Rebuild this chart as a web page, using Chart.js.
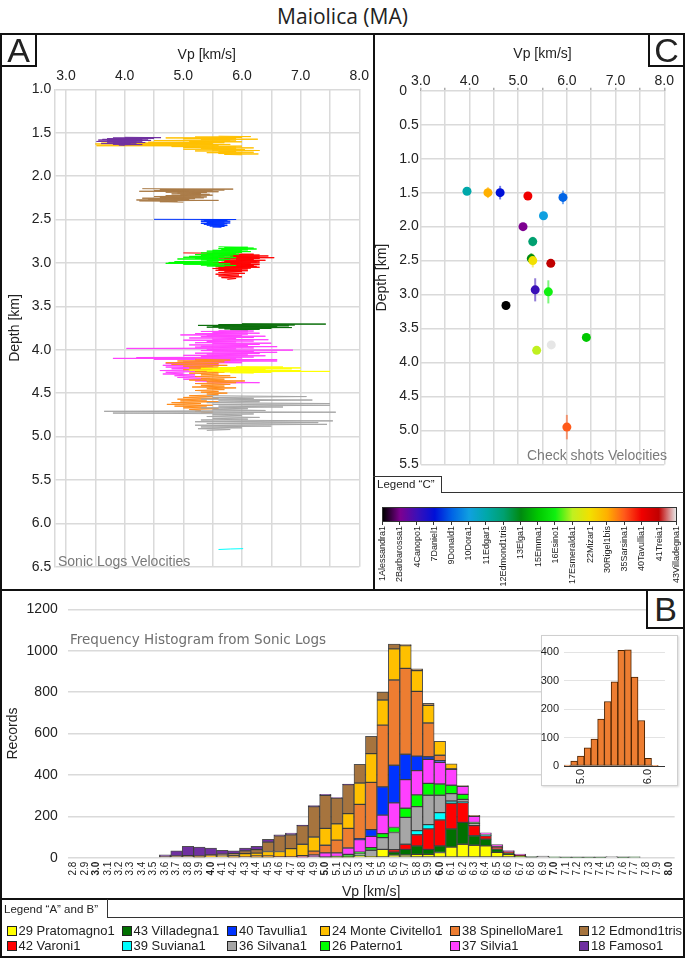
<!DOCTYPE html>
<html>
<head>
<meta charset="utf-8">
<script src="https://cdn.jsdelivr.net/npm/chart.js@4.4.0/dist/chart.umd.min.js"></script>
<style>
body { margin: 0; background: #fff; font-family: "Liberation Sans", Arial, sans-serif; color: #222; }
#page { position: relative; width: 685px; height: 958px; overflow: hidden; background: #fff; }
canvas { position: absolute; }
.frame { position: absolute; box-sizing: border-box; border: 2px solid #111; pointer-events: none; }
.tag { position: absolute; box-sizing: border-box; border: 2px solid #111; background: #fff; font-size: 34px; text-align: center; }
.line { position: absolute; background: #333; }
.txt { position: absolute; white-space: nowrap; }
.sw { position: absolute; width: 10px; height: 10px; box-sizing: border-box; border: 1px solid #222; }
.cbl { position: absolute; font-size: 9px; writing-mode: vertical-rl; transform: rotate(180deg); white-space: nowrap; }
</style>
</head>
<body>
<div id="page">
  <div class="txt" style="left:0;width:685px;top:2px;text-align:center;font:21px 'Open Sans',sans-serif;">Maiolica (MA)</div>

  <canvas id="cA" width="374" height="558" style="left:0;top:33px;"></canvas>
  <canvas id="cC" width="313" height="444" style="left:372px;top:33px;"></canvas>
  <canvas id="cB" width="685" height="310" style="left:0;top:591px;"></canvas>
  <div style="position:absolute;left:541px;top:635px;width:137px;height:151px;box-sizing:border-box;border:1px solid #cfcfcf;background:#fff;box-shadow:1px 1px 2px rgba(0,0,0,0.15);"></div>
  <canvas id="cI" width="137" height="151" style="left:541px;top:635px;"></canvas>

  <div class="txt" style="left:58px;top:553px;font-size:14px;color:#7a7a7a;">Sonic Logs Velocities</div>
  <div class="txt" style="left:527px;top:447px;font-size:14px;color:#7a7a7a;">Check shots Velocities</div>
  <div class="txt" style="left:70px;top:631px;font:13.5px 'DejaVu Sans',sans-serif;color:#6f6f6f;">Frequency Histogram from Sonic Logs</div>

  <div class="frame" style="left:0;top:33px;width:375px;height:558px;"></div>
  <div class="frame" style="left:373px;top:33px;width:312px;height:558px;"></div>
  <div class="frame" style="left:0;top:589px;width:685px;height:311px;"></div>
  <div class="frame" style="left:0;top:898px;width:685px;height:60px;"></div>

  <div class="tag" style="left:0;top:33px;width:37px;height:34px;line-height:31px;">A</div>
  <div class="tag" style="left:648px;top:33px;width:37px;height:34px;line-height:31px;">C</div>
  <div class="tag" style="left:646px;top:589px;width:39px;height:40px;line-height:37px;">B</div>

  <!-- legend C tab -->
  <div class="line" style="left:373px;top:476px;width:69px;height:1px;"></div>
  <div class="line" style="left:441px;top:476px;width:1px;height:17px;"></div>
  <div class="line" style="left:441px;top:492px;width:243px;height:1px;"></div>
  <div class="txt" style="left:377px;top:478px;font-size:11.5px;">Legend “C”</div>
  <div id="cbar" style="position:absolute;left:382px;top:507px;width:295px;height:15px;box-sizing:border-box;border:1px solid #333;"></div>
  <div id="cbLabels"></div>

  <!-- legend A and B tab -->
  <div class="line" style="left:107px;top:899px;width:1px;height:18px;"></div>
  <div class="line" style="left:107px;top:917px;width:577px;height:1px;"></div>
  <div class="txt" style="left:4px;top:903px;font-size:11.5px;">Legend “A” and B”</div>
  <div id="legAB"></div>
</div>

<script>
// ---------- Panel A : sonic logs, [depth km, Vp km/s] ----------
const famosoLog = [[1.553,4.00],[1.557,4.62],[1.561,3.80],[1.565,4.50],[1.569,3.70],[1.573,4.40],[1.577,3.62],[1.581,4.30],[1.585,3.55],[1.589,4.45],[1.593,3.70],[1.597,4.20],[1.601,3.52],[1.605,4.30],[1.609,3.80],[1.613,4.35],[1.617,3.70],[1.621,4.10],[1.625,3.60],[1.629,4.20],[1.633,3.80],[1.637,4.30],[1.641,3.90],[1.645,4.00]];
const civitelloLog = [[1.540,5.60],[1.545,6.15],[1.550,5.20],[1.555,6.00],[1.560,4.70],[1.565,5.90],[1.570,5.00],[1.575,6.27],[1.580,5.30],[1.585,5.80],[1.590,4.50],[1.595,5.90],[1.600,5.10],[1.605,6.00],[1.610,4.40],[1.615,5.70],[1.620,3.60],[1.625,5.50],[1.630,3.50],[1.635,5.80],[1.640,4.20],[1.645,5.60],[1.650,3.52],[1.655,6.00],[1.660,4.80],[1.665,5.90],[1.670,5.00],[1.675,6.20],[1.680,5.30],[1.685,5.90],[1.690,5.00],[1.695,6.05],[1.700,5.50],[1.705,6.30],[1.710,5.20],[1.715,5.90],[1.720,5.60],[1.725,6.20],[1.730,5.40],[1.735,6.00],[1.740,5.60],[1.745,6.28],[1.750,5.70],[1.755,6.00]];
const edmondLog = [[2.145,4.30],[2.150,5.85],[2.155,4.60],[2.160,5.70],[2.165,4.50],[2.170,5.50],[2.175,4.25],[2.180,5.60],[2.185,4.70],[2.190,5.40],[2.195,4.90],[2.200,5.30],[2.205,4.80],[2.210,5.45],[2.215,4.95],[2.220,5.50],[2.225,4.70],[2.230,5.30],[2.235,4.50],[2.240,5.40],[2.245,4.60],[2.250,5.35],[2.255,4.30],[2.260,5.20],[2.265,4.40],[2.270,5.10],[2.275,4.20],[2.280,5.60],[2.285,4.25],[2.290,4.90],[2.295,4.60],[2.300,5.00]];
const tavulliaLog = [[2.498,4.50],[2.500,5.90],[2.505,5.30],[2.510,5.75],[2.515,5.35],[2.520,5.80],[2.525,5.30],[2.530,5.70],[2.535,5.40],[2.540,5.80],[2.545,5.30],[2.550,5.75],[2.555,5.35],[2.560,5.70],[2.565,5.40],[2.570,5.75],[2.575,5.45],[2.580,5.70],[2.585,5.50],[2.590,5.65]];
const paternoLog = [[2.815,5.60],[2.820,6.10],[2.825,5.70],[2.830,6.20],[2.835,5.60],[2.840,6.25],[2.845,5.65],[2.850,6.10],[2.855,5.50],[2.860,6.00],[2.865,5.40],[2.870,6.15],[2.875,5.50],[2.880,6.00],[2.885,5.30],[2.890,5.90],[2.895,5.40],[2.900,5.95],[2.905,5.20],[2.910,5.80],[2.915,5.30],[2.920,5.85],[2.925,5.10],[2.930,5.70],[2.935,5.00],[2.940,5.90],[2.945,5.20],[2.950,5.60],[2.955,4.90],[2.960,5.80],[2.965,5.30],[2.970,5.70],[2.975,5.40],[2.980,5.60],[2.985,4.85],[2.990,5.50],[2.995,4.75],[3.000,5.60],[3.005,4.70],[3.010,5.80],[3.015,5.00],[3.020,5.60],[3.025,5.30],[3.030,5.90],[3.035,5.40],[3.040,5.70]];
const varoniLog = [[2.885,5.00],[2.890,5.80],[2.895,5.60],[2.900,6.20],[2.905,5.70],[2.910,6.30],[2.915,5.60],[2.920,6.45],[2.925,5.80],[2.930,6.30],[2.935,5.50],[2.940,6.55],[2.945,5.70],[2.950,6.30],[2.955,5.60],[2.960,6.20],[2.965,5.90],[2.970,6.40],[2.975,5.65],[2.980,6.30],[2.985,5.70],[2.990,6.25],[2.995,5.50],[3.000,6.30],[3.005,5.60],[3.010,6.15],[3.015,5.70],[3.020,6.30],[3.025,5.50],[3.030,6.20],[3.035,5.65],[3.040,6.25],[3.045,5.55],[3.050,6.30],[3.055,5.60],[3.060,6.15],[3.065,5.50],[3.070,6.10],[3.075,5.60],[3.080,6.00],[3.085,5.55],[3.090,6.10],[3.095,5.70],[3.100,6.00],[3.110,5.60],[3.120,6.05],[3.130,5.55],[3.140,5.95],[3.150,5.60],[3.160,6.00],[3.170,5.65],[3.180,5.90],[3.190,5.75]];
const villadegnaLog = [[3.700,6.00],[3.705,7.43],[3.710,5.60],[3.715,6.90],[3.720,5.25],[3.725,6.80],[3.730,5.50],[3.735,6.60],[3.740,5.40],[3.745,6.85],[3.750,5.60],[3.755,6.50],[3.760,5.70],[3.765,6.30],[3.770,5.80],[3.775,6.10]];
const silviaLog = [[3.780,5.60],[3.785,6.20],[3.790,5.30],[3.795,6.10],[3.800,5.50],[3.810,6.30],[3.815,5.20],[3.820,6.10],[3.830,4.95],[3.835,6.00],[3.840,5.40],[3.845,6.40],[3.850,5.30],[3.860,6.20],[3.865,5.10],[3.870,5.90],[3.880,5.50],[3.885,6.45],[3.890,5.00],[3.900,6.20],[3.905,5.40],[3.910,5.90],[3.920,5.20],[3.925,6.50],[3.930,5.50],[3.940,6.30],[3.945,5.10],[3.950,6.10],[3.960,5.30],[3.965,6.60],[3.970,5.20],[3.980,6.20],[3.985,4.03],[3.990,5.90],[4.000,5.40],[4.005,6.87],[4.010,5.30],[4.020,6.20],[4.025,5.50],[4.030,6.60],[4.040,5.20],[4.045,6.30],[4.050,5.40],[4.060,6.10],[4.065,5.00],[4.070,6.40],[4.080,5.30],[4.085,6.20],[4.090,4.20],[4.095,6.00],[4.100,3.80],[4.105,5.90],[4.110,4.50],[4.115,6.60],[4.120,5.20],[4.130,6.60],[4.140,5.00],[4.150,6.00],[4.160,4.70],[4.170,5.60],[4.180,4.65],[4.190,5.50],[4.200,4.70],[4.210,5.30],[4.220,4.80],[4.230,5.50],[4.240,4.60],[4.250,5.40],[4.260,4.70],[4.270,5.00],[4.280,4.65],[4.290,5.20],[4.300,4.85],[4.310,5.30],[4.320,4.90],[4.330,5.45],[4.340,5.00],[4.350,5.40],[4.360,5.20],[4.370,5.60],[4.380,6.30],[4.385,5.40]];
const spinelloLog = [[4.11,5.20],[4.12,5.80],[4.13,4.90],[4.14,5.70],[4.15,4.70],[4.16,5.60],[4.17,4.80],[4.18,5.75],[4.19,5.00],[4.20,5.60],[4.21,5.10],[4.22,5.50],[4.23,5.00],[4.24,5.90],[4.25,5.20],[4.26,5.70],[4.27,5.10],[4.28,5.60],[4.29,5.30],[4.30,5.80],[4.31,5.20],[4.32,5.90],[4.33,5.30],[4.34,5.70],[4.35,5.10],[4.36,6.05],[4.37,5.40],[4.38,5.90],[4.39,5.20],[4.40,5.80],[4.41,5.30],[4.42,5.70],[4.43,5.15],[4.44,5.90],[4.45,5.40],[4.46,5.70],[4.47,5.20],[4.48,5.60],[4.49,5.30],[4.50,5.75],[4.51,5.40],[4.52,5.60],[4.53,5.10],[4.54,5.50],[4.55,5.00],[4.56,5.60],[4.57,4.90],[4.58,5.40],[4.59,4.95],[4.60,5.60],[4.61,4.80],[4.62,5.30],[4.63,4.72],[4.64,5.50],[4.65,4.85],[4.66,5.40],[4.67,5.00],[4.68,5.60],[4.69,5.10],[4.70,5.30],[4.71,5.20],[4.72,5.50],[4.73,5.30]];
const pratomagnoLog = [[4.195,5.90],[4.200,6.70],[4.205,5.60],[4.210,7.00],[4.215,5.30],[4.220,6.85],[4.225,5.50],[4.230,6.40],[4.235,5.10],[4.240,7.00],[4.245,5.40],[4.250,7.50],[4.255,5.60],[4.260,6.50],[4.265,5.80],[4.270,6.20]];
const silvanaLog = [[4.53,5.40],[4.54,7.10],[4.55,5.50],[4.56,6.20],[4.57,5.30],[4.58,7.20],[4.59,5.60],[4.60,6.30],[4.61,5.40],[4.62,7.50],[4.63,5.50],[4.64,7.50],[4.65,5.60],[4.66,6.70],[4.67,5.30],[4.68,6.10],[4.69,5.50],[4.70,6.40],[4.71,3.65],[4.72,7.60],[4.73,3.80],[4.74,6.20],[4.75,5.50],[4.76,6.00],[4.77,5.40],[4.78,6.30],[4.79,5.50],[4.80,6.10],[4.81,5.30],[4.82,7.55],[4.83,5.20],[4.84,7.30],[4.85,5.40],[4.86,7.45],[4.87,5.20],[4.88,6.50],[4.89,5.30],[4.90,6.00],[4.91,5.25],[4.92,5.80],[4.93,5.40]];
const suvianaLog = [[6.302,5.60],[6.296,5.80],[6.292,6.02]];

const vpTicks = [3.0, 3.5, 4.0, 4.5, 5.0, 5.5, 6.0, 6.5, 7.0, 7.5, 8.0];

// ---------- Panel C : check shots ----------
const cWell  = ['11Edgar1','30Rigel1bis','7Daniel1','40Tavullia1','9Donald1','10Dora1','2Barbarossa1','12Edmond1tris','13Elga1','22Mizar1','41Treia1','4Canopo1','16Esino1','1Alessandra1','15Emma1','43Villadegna1','17Esmeralda1','35Sarsina1'];
const cVp    = [3.95, 4.38, 4.63, 5.20, 5.92, 5.52, 5.10, 5.30, 5.27, 5.30, 5.67, 5.35, 5.62, 4.75, 6.40, 5.68, 5.38, 6.00];
const cDepth = [1.48, 1.50, 1.50, 1.55, 1.57, 1.84, 2.00, 2.22, 2.47, 2.50, 2.54, 2.93, 2.96, 3.16, 3.63, 3.74, 3.82, 4.95];
const cErr   = [0.05, 0.08, 0.10, 0.04, 0.10, 0.03, 0.00, 0.07, 0.08, 0.10, 0.00, 0.17, 0.17, 0.06, 0.00, 0.00, 0.00, 0.18];

const cbWells = ['1Alessandra1','2Barbarossa1','4Canopo1','7Daniel1','9Donald1','10Dora1','11Edgar1','12Edmond1tris','13Elga1','15Emma1','16Esino1','17Esmeralda1','22Mizar1','30Rigel1bis','35Sarsina1','40Tavullia1','41Treia1','43Villadegna1'];
const cbColors = ['#000000','#7d0090','#3a10b8','#0010d8','#0064e6','#10a0e0','#00a8aa','#00a070','#008a10','#00c800','#10f010','#c0f020','#f2e000','#ffb000','#ff5a1a','#f00000','#c00000','#e6e6e6'];

// ---------- Panel B : histogram (records per 0.1 km/s bin) ----------
const binLabels = ['2.8','2.9','3.0','3.1','3.2','3.3','3.4','3.5','3.6','3.7','3.8','3.9','4.0','4.1','4.2','4.3','4.4','4.5','4.6','4.7','4.8','4.9','5.0','5.1','5.2','5.3','5.4','5.5','5.6','5.7','5.8','5.9','6.0','6.1','6.2','6.3','6.4','6.5','6.6','6.7','6.8','6.9','7.0','7.1','7.2','7.3','7.4','7.5','7.6','7.7','7.8','7.9','8.0'];
const pratomagno  = [0,0,0,0,0,0,0,0,0,0, 0,0,0,0,0,0,3,3,0,0, 0,0,0,3,3,8,5,40,12,13, 16,16,25,51,65,60,57,26,16,4, 0,0,0,0,0,0,0,0,0,0, 0,0,0];
const villadegna  = [0,0,0,0,0,0,0,0,0,0, 0,0,0,0,0,0,0,0,0,0, 0,0,3,3,5,5,0,0,15,27, 41,24,32,88,106,46,33,16,5,6, 3,0,2,1,1,1,1,0,1,2, 0,0,0];
const varoni      = [0,0,0,0,0,0,0,0,0,0, 0,0,0,0,0,0,0,0,0,0, 0,0,0,0,0,0,0,0,12,25, 54,99,125,124,95,49,16,8,5,1, 0,0,0,0,0,0,0,0,0,0, 0,0,0];
const suviana     = [0,0,0,0,0,0,0,0,0,0, 0,0,0,0,0,0,0,0,0,0, 0,0,0,0,0,0,0,0,0,0, 20,21,36,11,3,0,3,0,0,0, 0,0,0,0,0,0,0,0,0,0, 0,0,0];
const silvana     = [0,0,0,0,0,0,0,0,0,0, 0,0,0,0,0,0,0,0,0,0, 0,0,0,0,0,6,31,57,83,130, 116,142,84,36,13,10,3,3,3,3, 3,8,1,1,1,1,1,5,2,1, 0,0,0];
const paterno     = [0,0,0,0,0,0,0,0,0,0, 0,0,0,0,0,0,0,0,0,0, 0,0,0,0,8,8,13,19,24,44, 57,57,54,40,24,5,0,0,0,0, 0,0,0,0,0,0,0,0,0,0, 0,0,0];
const silvia      = [0,0,0,0,0,0,0,0,0,0, 0,0,0,0,0,0,0,0,0,0, 2,13,20,17,31,60,54,90,119,138, 117,116,105,77,39,30,8,10,6,3, 0,0,0,0,0,0,0,0,0,0, 0,0,0];
const tavullia    = [0,0,0,0,0,0,0,0,0,0, 0,0,0,0,0,0,0,0,0,0, 0,0,0,0,0,5,33,136,182,123, 70,13,8,0,0,0,0,0,0,0, 0,0,0,0,0,0,0,0,0,0, 0,0,0];
const spinello    = [0,0,0,0,0,0,0,0,0,0, 0,0,0,0,2,4,5,5,5,5, 8,19,37,62,95,166,228,299,412,415, 313,163,26,3,0,0,0,0,0,0, 0,0,0,0,0,0,0,0,0,0, 0,0,0];
const civitello   = [0,0,0,0,0,0,0,0,0,0, 0,3,9,8,10,16,14,22,25,39, 55,68,82,79,71,103,139,121,150,110, 100,85,67,24,0,0,0,0,0,0, 0,0,0,0,0,0,0,0,0,0, 0,0,0];
const edmond      = [0,0,0,0,0,0,0,0,4,8, 10,5,5,9,8,13,17,45,76,67, 90,147,159,124,140,90,83,38,24,5, 9,10,0,0,3,5,0,0,0,0, 0,0,0,0,0,0,0,0,0,0, 0,0,0];
const famoso      = [0,0,0,0,0,0,0,0,10,25, 45,43,32,19,13,13,16,14,5,8, 3,5,5,2,3,0,0,0,0,0, 0,0,0,0,0,0,0,0,0,0, 0,0,0,0,0,0,0,0,0,0, 0,0,0];

// inset: SpinelloMare1 only
const insetLabels = ['4.8','4.9','5.0','5.1','5.2','5.3','5.4','5.5','5.6','5.7','5.8','5.9','6.0','6.1','6.2'];
const insetSpinello = [3,17,35,64,95,165,227,296,407,409,313,160,27,1,0];

// ---------- styles ----------
const FONT = "'Liberation Sans', Arial, sans-serif";
Chart.defaults.font.family = FONT;
Chart.defaults.color = '#222';
const GRID = '#dadada';

const wells = [
  { key: 'pratomagno', name: '29 Pratomagno1', color: '#ffff00', data: pratomagno },
  { key: 'villadegna', name: '43 Villadegna1', color: '#007000', data: villadegna },
  { key: 'varoni', name: '42 Varoni1', color: '#ff0000', data: varoni },
  { key: 'suviana', name: '39 Suviana1', color: '#00ffff', data: suviana },
  { key: 'silvana', name: '36 Silvana1', color: '#a6a6a6', data: silvana },
  { key: 'paterno', name: '26 Paterno1', color: '#00ff00', data: paterno },
  { key: 'silvia', name: '37 Silvia1', color: '#ff40ff', data: silvia },
  { key: 'tavullia', name: '40 Tavullia1', color: '#0033ff', data: tavullia },
  { key: 'spinello', name: '38 SpinelloMare1', color: '#ed7d31', data: spinello },
  { key: 'civitello', name: '24 Monte Civitello1', color: '#ffc000', data: civitello },
  { key: 'edmond', name: '12 Edmond1tris', color: '#a6743e', data: edmond },
  { key: 'famoso', name: '18 Famoso1', color: '#7030a0', data: famoso }
];
const colorOf = {};
wells.forEach(w => colorOf[w.key] = w.color);

const noUi = { legend: { display: false }, tooltip: { enabled: false } };

// ---------- Chart A ----------
function logSet(log, color) {
  return { data: log.map(p => ({ x: p[1], y: p[0] })), showLine: true, borderColor: color,
           borderWidth: 1, pointRadius: 0, fill: false, tension: 0 };
}

new Chart(document.getElementById('cA'), {
  type: 'scatter',
  data: { datasets: [
    logSet(pratomagnoLog, colorOf.pratomagno),
    logSet(silvanaLog, colorOf.silvana),
    logSet(spinelloLog, '#ff8c1a'),
    logSet(silviaLog, colorOf.silvia),
    logSet(villadegnaLog, '#0a6e0a'),
    logSet(paternoLog, colorOf.paterno),
    logSet(varoniLog, colorOf.varoni),
    logSet(famosoLog, colorOf.famoso),
    logSet(civitelloLog, colorOf.civitello),
    logSet(edmondLog, '#a97a46'),
    logSet(tavulliaLog, colorOf.tavullia),
    logSet(suvianaLog, colorOf.suviana)
  ] },
  options: {
    responsive: false, animation: false, events: [], plugins: noUi,
    layout: { padding: { left: 0, top: 0, right: 13, bottom: 24.3 } },
    scales: {
      x: {
        type: 'linear', position: 'top', min: 2.8, max: 8.0,
        afterBuildTicks: s => { s.ticks = vpTicks.map(v => ({ value: v })); },
        afterFit: s => { s.height = 56.3; },
        ticks: { callback: v => Number.isInteger(v) ? v.toFixed(1) : '', font: { size: 14 }, padding: 5, maxRotation: 0, autoSkip: false },
        grid: { color: GRID, lineWidth: 1.5, drawTicks: false },
        border: { display: false },
        title: { display: true, text: 'Vp [km/s]', font: { size: 14 }, padding: { top: 13.6, bottom: 0 } }
      },
      y: {
        type: 'linear', reverse: true, min: 1.0, max: 6.5,
        afterFit: s => { s.width = 54.3; },
        ticks: { stepSize: 0.5, callback: v => v.toFixed(1), font: { size: 14 }, padding: 3 },
        grid: { color: GRID, lineWidth: 1.5, drawTicks: false },
        border: { display: true, color: GRID, width: 1.5 },
        title: { display: true, text: 'Depth [km]', font: { size: 14 }, padding: { top: 6.6, bottom: 0 } }
      }
    }
  }
});

// ---------- Chart C ----------
const cbColorOf = {};
cbWells.forEach((w, i) => cbColorOf[w] = cbColors[i]);

const errorBars = {
  id: 'errorBars',
  beforeDatasetsDraw(chart) {
    const { ctx, scales: { x, y } } = chart;
    ctx.save();
    ctx.lineWidth = 2;
    ctx.globalAlpha = 0.55;
    cVp.forEach((v, i) => {
      if (!cErr[i]) return;
      const px = x.getPixelForValue(v);
      ctx.strokeStyle = cbColorOf[cWell[i]];
      ctx.beginPath();
      ctx.moveTo(px, y.getPixelForValue(cDepth[i] - cErr[i]));
      ctx.lineTo(px, y.getPixelForValue(cDepth[i] + cErr[i]));
      ctx.stroke();
    });
    ctx.restore();
  }
};

new Chart(document.getElementById('cC'), {
  type: 'scatter',
  data: { datasets: [{
    data: cVp.map((v, i) => ({ x: v, y: cDepth[i] })),
    pointRadius: 4.5, pointBorderWidth: 0,
    pointBackgroundColor: cWell.map(w => cbColorOf[w])
  }] },
  options: {
    responsive: false, animation: false, events: [], plugins: noUi,
    layout: { padding: { left: 0, top: 0, right: 20.7, bottom: 12.5 } },
    scales: {
      x: {
        type: 'linear', position: 'top', min: 3.0, max: 8.0,
        afterBuildTicks: s => { s.ticks = vpTicks.map(v => ({ value: v })); },
        afterFit: s => { s.height = 57.7; },
        ticks: { callback: v => Number.isInteger(v) ? v.toFixed(1) : '', font: { size: 14 }, padding: -2, maxRotation: 0, autoSkip: false },
        grid: { color: GRID, lineWidth: 1.5, drawTicks: true, tickLength: 3, tickColor: '#aaa' },
        border: { display: false },
        title: { display: true, text: 'Vp [km/s]', font: { size: 14 }, padding: { top: 12.6, bottom: 0 } }
      },
      y: {
        type: 'linear', reverse: true, min: 0, max: 5.5,
        afterFit: s => { s.width = 48.7; },
        ticks: { stepSize: 0.5, callback: v => v === 0 ? '0   ' : v.toFixed(1), font: { size: 14 }, padding: 2 },
        grid: { color: GRID, lineWidth: 1.5, drawTicks: false },
        border: { display: false },
        title: { display: true, text: 'Depth [km]', font: { size: 14 }, padding: { top: 1.6, bottom: 0 } }
      }
    }
  },
  plugins: [errorBars]
});

// ---------- Chart B ----------
new Chart(document.getElementById('cB'), {
  type: 'bar',
  data: {
    labels: binLabels,
    datasets: wells.map(w => ({
      label: w.name, data: w.data, backgroundColor: w.color,
      borderColor: 'rgba(35,35,35,0.8)', borderWidth: 1, borderSkipped: false,
      barPercentage: 1, categoryPercentage: 1
    }))
  },
  options: {
    responsive: false, animation: false, events: [], plugins: noUi,
    layout: { padding: { left: 0, top: 14, right: 9, bottom: 0 } },
    scales: {
      x: {
        stacked: true,
        afterFit: s => { s.height = 43.3; },
        ticks: {
          minRotation: 90, maxRotation: 90, autoSkip: false, padding: 4,
          font: ctx => ({ size: 10, weight: binLabels[ctx.index] && binLabels[ctx.index].endsWith('.0') ? 'bold' : 'normal' })
        },
        grid: { display: false, drawTicks: false },
        border: { display: false },
        title: { display: true, text: 'Vp [km/s]', font: { size: 14 }, padding: { top: 0, bottom: 0 } }
      },
      y: {
        stacked: true, min: 0, max: 1200,
        afterFit: s => { s.width = 67.7; },
        ticks: { stepSize: 200, font: { size: 14 }, padding: 10, callback: v => String(v) },
        grid: { color: GRID, lineWidth: 1.5, drawTicks: false },
        border: { display: false },
        title: { display: true, text: 'Records', font: { size: 14 }, padding: { top: 4.6, bottom: 0 } }
      }
    }
  }
});

// ---------- Inset ----------
new Chart(document.getElementById('cI'), {
  type: 'bar',
  data: { labels: insetLabels, datasets: [{
    data: insetSpinello, backgroundColor: '#ed7d31', borderColor: '#4a2200',
    borderWidth: 1, borderSkipped: false, barPercentage: 1, categoryPercentage: 1
  }] },
  options: {
    responsive: false, animation: false, events: [], plugins: noUi,
    layout: { padding: { left: 0, top: 3.3, right: 6, bottom: 0 } },
    scales: {
      x: {
        afterFit: s => { s.height = 20; },
        ticks: { minRotation: 90, maxRotation: 90, autoSkip: false, padding: 3, font: { size: 11 },
                 callback: (v, i) => (insetLabels[i] === '5.0' || insetLabels[i] === '6.0') ? insetLabels[i] : '' },
        grid: { display: false, drawTicks: false },
        border: { display: true, color: '#333', width: 1 }
      },
      y: {
        min: 0, max: 420,
        afterBuildTicks: s => { s.ticks = [0, 100, 200, 300, 400].map(v => ({ value: v })); },
        afterFit: s => { s.width = 23; },
        ticks: { font: { size: 11 }, padding: 5, callback: v => String(v) },
        grid: { color: '#e3e3e3', lineWidth: 1, drawTicks: false },
        border: { display: false }
      }
    }
  }
});

// ---------- Legend C colour bar ----------
const stops = cbColors.map((c, i) => c + ' ' + (i / (cbColors.length - 1) * 100).toFixed(2) + '%').join(',');
document.getElementById('cbar').style.background = 'linear-gradient(to right,' + stops + ')';
const cbHost = document.getElementById('cbLabels');
cbWells.forEach((w, i) => {
  const x = 382 + i * 294 / (cbWells.length - 1);
  const tick = document.createElement('div');
  tick.className = 'line';
  tick.style.cssText = 'left:' + (x - 0.5) + 'px;top:521px;width:1px;height:4px;';
  cbHost.appendChild(tick);
  const lab = document.createElement('div');
  lab.className = 'cbl';
  lab.textContent = w;
  lab.style.left = (x - 5) + 'px';
  lab.style.top = '526px';
  cbHost.appendChild(lab);
});

// ---------- Legend A and B ----------
const legOrder = ['pratomagno','varoni','villadegna','suviana','tavullia','silvana','civitello','paterno','spinello','silvia','edmond','famoso'];
const legCols = [6.5, 121.5, 227, 320, 450, 579];
const legHost = document.getElementById('legAB');
legOrder.forEach((k, i) => {
  const w = wells.find(d => d.key === k);
  const x = legCols[Math.floor(i / 2)];
  const y = i % 2 === 0 ? 926 : 941;
  const sw = document.createElement('div');
  sw.className = 'sw';
  sw.style.cssText = 'left:' + x + 'px;top:' + y + 'px;background:' + w.color + ';';
  legHost.appendChild(sw);
  const t = document.createElement('div');
  t.className = 'txt';
  t.style.cssText = 'left:' + (x + 12) + 'px;top:' + (y - 3) + 'px;font-size:13px;';
  t.textContent = w.name;
  legHost.appendChild(t);
});
</script>
</body>
</html>
